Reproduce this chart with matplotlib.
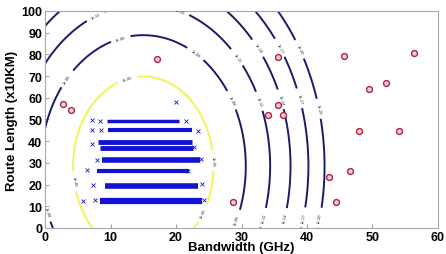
import numpy as np
import matplotlib
matplotlib.use('Agg')
import matplotlib.pyplot as plt

plt.rcParams['font.family'] = ['Liberation Sans', 'DejaVu Sans']

# gaussian model behind the contour lines
mean_bw, mean_len = 15.0, 28.5
std_bw, std_len = 3.07, 11.84
levels = [1e-20, 1e-17, 1e-14, 1e-11, 1e-08, 1e-05]

# dense blue bands (training data): row height and bandwidth extent
band_y = [49.5, 45.0, 39.5, 37.0, 31.5, 26.3, 19.5, 12.5]
band_x0 = [9.4, 9.6, 8.1, 8.4, 8.7, 7.9, 9.1, 8.4]
band_x1 = [20.5, 22.5, 22.5, 22.6, 23.6, 22.0, 23.3, 24.0]
band_w = [2.5, 3.0, 3.5, 3.5, 4.0, 3.0, 4.0, 4.5]

# stray blue crosses around the bands
stray_x = [7.2, 8.4, 21.5, 7.2, 8.6, 23.4, 7.2, 7.9, 6.4, 7.3, 5.8, 20.0, 23.8, 24.2, 21.8, 22.8, 7.6, 24.0]
stray_y = [49.7, 49.5, 49.4, 45.0, 45.2, 44.8, 38.5, 31.3, 26.6, 19.8, 12.4, 58.0, 31.6, 12.7, 26.1, 37.5, 13.0, 20.2]

# red circles (anomalies)
red_x = [2.8, 4.0, 17.1, 35.5, 35.5, 34.1, 36.3, 45.7, 56.3, 49.5, 52.0, 48.0, 54.1, 46.6, 43.4, 44.5, 28.7]
red_y = [57.1, 54.4, 77.9, 78.8, 56.7, 52.1, 52.1, 79.3, 80.6, 64.1, 66.8, 44.7, 44.7, 26.3, 23.5, 12.0, 12.0]

xs = np.linspace(0, 60, 400)
ys = np.linspace(0, 100, 400)
X, Y = np.meshgrid(xs, ys)
Z = np.exp(-0.5 * (((X - mean_bw) / std_bw) ** 2 + ((Y - mean_len) / std_len) ** 2)) / (2 * np.pi * std_bw * std_len)

fig = plt.figure(figsize=(4.46, 2.55), dpi=100)
ax = fig.add_axes([0.101, 0.102, 0.881, 0.851])

cs = ax.contour(X, Y, Z, levels=levels,
                colors=['#1b1b6b'] * 5 + ['#f2f25a'], linewidths=1.4)
label_pos = [(4.6, 21.5), (12.7, 67.7), (25.5, 31), (24.4, 6.5),
             (0.3, 7.4), (3.4, 68.7), (11.7, 85.7), (22.9, 80), (28.2, 58.5), (29.2, 4),
             (8, 96), (19, 99.5), (29, 78), (32.3, 58), (33, 5),
             (32.3, 82.5), (36.1, 59.4), (36, 5),
             (35.5, 82.5), (38.4, 59.4), (39.2, 5),
             (38.6, 82), (41.6, 54.8), (41.5, 5)]
ax.clabel(cs, manual=label_pos, fmt=lambda v: '%.0e' % v, fontsize=3, inline=True, colors='#303030')

for y, x0, x1, w in zip(band_y, band_x0, band_x1, band_w):
    ax.plot([x0, x1], [y, y], color='#1212d4', linewidth=w, solid_capstyle='butt')
ax.scatter(stray_x, stray_y, marker='x', s=8, color='#1515d8', linewidths=0.6)
ax.scatter(red_x, red_y, marker='o', s=18, facecolor='#eecfd8', edgecolor='#b3223f', linewidths=1.0, zorder=5)

ax.set_xlim(0, 60)
ax.set_ylim(0, 100)
ax.set_xticks(np.arange(0, 61, 10))
ax.set_yticks(np.arange(0, 101, 10))
ax.tick_params(direction='in', length=3, width=0.6, color='#909090', labelsize=9, pad=2)
for lab in ax.get_xticklabels() + ax.get_yticklabels():
    lab.set_fontweight('bold')
for sp in ax.spines.values():
    sp.set_color('#a8a8a8')
    sp.set_linewidth(0.8)

ax.set_xlabel('Bandwidth (GHz)', fontsize=9.5, fontweight='bold', labelpad=-1)
ax.set_ylabel('Route Length (x10KM)', fontsize=9.5, fontweight='bold', labelpad=2)

fig.savefig('out.png', dpi=100)
